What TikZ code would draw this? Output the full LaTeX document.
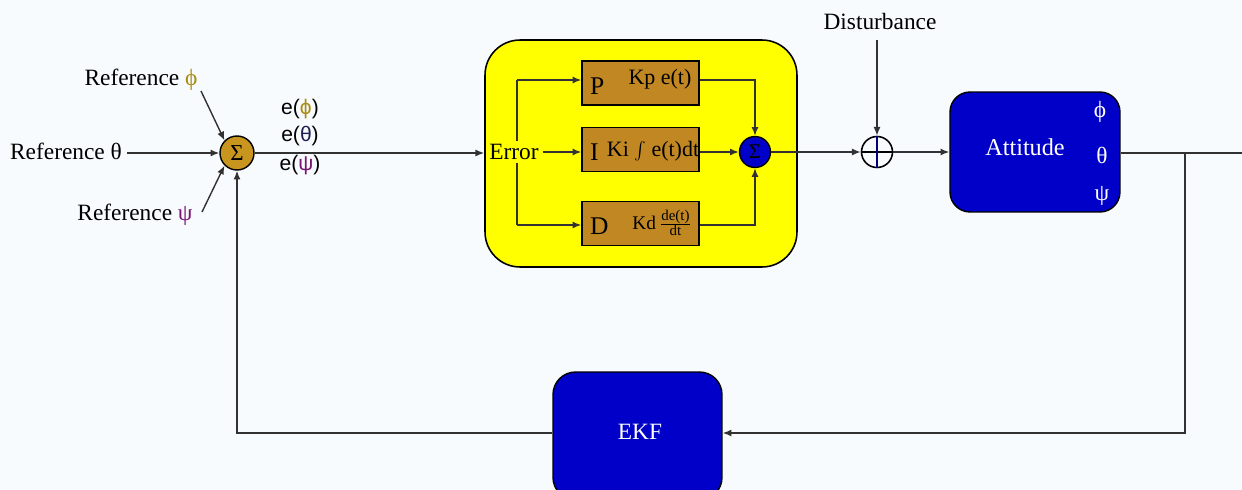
\documentclass[tikz,border=0pt]{standalone}
\usepackage{fontspec}
\setmainfont{Liberation Serif}
\newfontfamily\lsans{Liberation Sans}
\usetikzlibrary{arrows.meta}
\definecolor{bgc}{RGB}{247,251,253}
\definecolor{goldc}{RGB}{200,150,30}
\definecolor{brownc}{RGB}{193,135,35}
\definecolor{bluec}{RGB}{0,0,200}
\definecolor{linec}{RGB}{50,50,50}
\definecolor{phic}{RGB}{170,140,20}
\definecolor{psic}{RGB}{120,20,120}
\definecolor{thc}{RGB}{30,30,80}
\definecolor{yelc}{RGB}{255,255,0}
\tikzset{
  conn/.style={draw=linec, line width=0.8pt},
  arr/.style={conn, -{Latex[length=5pt,width=4pt]}},
  txt/.style={font=\fontsize{13.3}{15}\selectfont, inner sep=1pt},
  pidbox/.style={draw=black, line width=0.8pt, fill=brownc, minimum width=2.34cm, minimum height=0.88cm, inner sep=0pt},
  bluebox/.style={draw=black, line width=0.8pt, fill=bluec, text=white},
}
\begin{document}
\begin{tikzpicture}[x=0.02cm,y=-0.02cm]
\clip (0,0) rectangle (1242,490);
\fill[bgc] (0,0) rectangle (1242,490);
\useasboundingbox (0,0) rectangle (1242,490);

% summing junction
\node[circle, draw=black, line width=0.8pt, fill=goldc, minimum size=0.68cm, inner sep=0pt, font=\fontsize{13}{13}\selectfont] (sum1) at (237,153) {Σ};

\node[txt] (rphi) at (141,80) {Reference {\color{phic}ϕ}};
\node[txt] (rth) at (66,151) {Reference θ};
\node[txt] (rpsi) at (135,215) {Reference {\color{psic}ψ}};
\coordinate (rphiend) at (201,91);
\coordinate (rthend) at (127,153);
\coordinate (rpsiend) at (202,212);
\draw[arr] (rphiend) -- (sum1.north west);
\draw[arr] (rthend) -- (sum1.west);
\draw[arr] (rpsiend) -- (sum1.south west);

\node[inner sep=0pt, font=\lsans\fontsize{12}{14}\selectfont] (ephi) at (300,109) {e({\color{phic}ϕ})};
\node[inner sep=0pt, font=\lsans\fontsize{12}{14}\selectfont] (eth) at (300,136) {e({\color{thc}θ})};
\node[inner sep=0pt, font=\lsans\fontsize{12}{14}\selectfont] (epsi) at (300,165) {e({\color{psic}ψ})};

% PID yellow block
\node[draw=black, line width=0.9pt, fill=yelc, rounded corners=0.7cm, minimum width=6.24cm, minimum height=4.54cm] (yel) at (641,153.5) {};
\draw[arr] (sum1.east) -- (yel.west |- sum1.east);

\node[pidbox] (P) at (640.5,83) {};
\node[pidbox] (I) at (640.5,149.5) {};
\node[pidbox] (D) at (640.5,223.5) {};
\node[txt, anchor=west, font=\fontsize{14.5}{16}\selectfont] (Pl) at (588,86) {P};
\node[txt, anchor=west, font=\fontsize{14.5}{16}\selectfont] (Il) at (588,152) {I};
\node[txt, anchor=west, font=\fontsize{14.5}{16}\selectfont] (Dl) at (588,226) {D};
\node[txt, font=\fontsize{12.5}{14}\selectfont] (Pt) at (660,79) {Kp e(t)};
\node[txt, font=\fontsize{12.5}{14}\selectfont] (It) at (653,151) {Ki $\int$ e(t)dt};
\node[txt, font=\fontsize{11}{13}\selectfont] (Dt) at (662,223) {Kd\,$\frac{\mbox{\fontsize{8.5}{9}\selectfont de(t)}}{\mbox{\fontsize{8.5}{9}\selectfont dt}}$};

\coordinate (vt) at (517,80);
\coordinate (vb) at (517,225);
\draw[conn] (vt) -- (vb);
\draw[arr] (vt) -- (P.west |- vt);
\draw[arr] (vb) -- (D.west |- vb);
\node[txt, fill=yelc, inner sep=2pt] (err) at (514,152) {Error};
\draw[arr] (err.east) -- (I.west |- err.east);

\node[circle, draw=black, line width=0.8pt, fill=bluec, minimum size=0.62cm, inner sep=0pt, font=\fontsize{12}{12}\selectfont] (sum2) at (755,152) {Σ};
\draw[arr] (P.east |- vt) -| (sum2.north);
\draw[arr] (D.east |- vb) -| (sum2.south);
\draw[arr] (I.east |- sum2.west) -- (sum2.west);

% disturbance summing point
\node[circle, draw=black, line width=0.9pt, minimum size=0.62cm, inner sep=0pt] (plus) at (877,152) {};
\draw[line width=0.9pt, black] (plus.west) -- (plus.east);
\draw[line width=1.2pt, bluec!60!black] (plus.north) -- (plus.south);
\draw[arr] (sum2.east) -- (plus.west);
\node[txt] (dist) at (880,22) {Disturbance};
\coordinate (distend) at (877,40);
\draw[arr] (distend) -- (plus.north);

% Attitude
\node[bluebox, rounded corners=0.4cm, minimum width=3.4cm, minimum height=2.4cm] (att) at (1035,152) {};
\node[txt, text=white, font=\fontsize{13.8}{15}\selectfont] (attl) at (1025,147) {Attitude};
\node[txt, text=white] (aphi) at (1100,112) {ϕ};
\node[txt, text=white] (ath) at (1102,155) {θ};
\node[txt, text=white] (apsi) at (1102,196) {ψ};
\draw[arr] (plus.east) -- (att.west |- plus.east);
\coordinate (outend) at (1242,153);
\draw[conn] (att.east |- outend) -- (outend);

% EKF
\node[bluebox, rounded corners=0.45cm, minimum width=3.38cm, minimum height=2.56cm] (ekf) at (637.5,436) {};
\node[txt, text=white] (ekfl) at (640,432) {EKF};
\coordinate (tap) at (1185,153);
\coordinate (tapdown) at (1185,433);
\coordinate (fbcorner) at (237,433);
\draw[arr] (tap) -- (tapdown) -- (ekf.east |- tapdown);
\draw[arr] (ekf.west |- fbcorner) -- (fbcorner) -- (sum1.south);
\end{tikzpicture}
\end{document}
